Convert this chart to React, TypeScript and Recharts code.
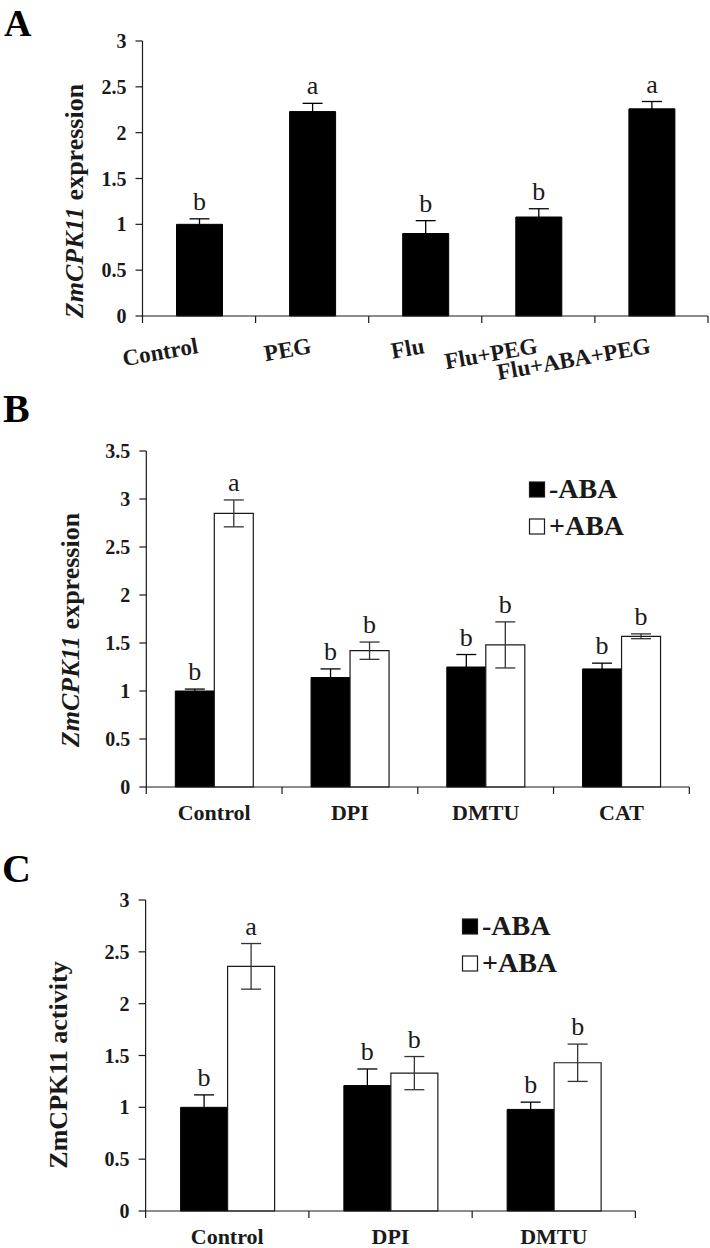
import React from 'react'
import { BarChart, Bar, XAxis, YAxis, ErrorBar, LabelList } from 'recharts'

const FONT = '"Liberation Serif", "Times New Roman", serif'
const INK = '#1a1a1a'

// Panel A: ZmCPK11 expression after PEG / fluridone treatments
const treatmentsA = ['Control', 'PEG', 'Flu', 'Flu+PEG', 'Flu+ABA+PEG']
const expressionA = [1.0, 2.23, 0.9, 1.08, 2.26]
const errorA = [0.06, 0.09, 0.14, 0.09, 0.08]
const lettersA = ['b', 'a', 'b', 'b', 'a']
const yTicksA = [0, 0.5, 1, 1.5, 2, 2.5, 3]

// Panel B: expression with / without ABA under ROS scavengers
const treatmentsB = ['Control', 'DPI', 'DMTU', 'CAT']
const minusAbaB = [1.0, 1.14, 1.25, 1.23]
const minusErrB = [0.02, 0.09, 0.13, 0.06]
const plusAbaB = [2.85, 1.42, 1.48, 1.57]
const plusErrB = [0.14, 0.09, 0.24, 0.025]
const minusLettersB = ['b', 'b', 'b', 'b']
const plusLettersB = ['a', 'b', 'b', 'b']
const yTicksB = [0, 0.5, 1, 1.5, 2, 2.5, 3, 3.5]

// Panel C: kinase activity
const treatmentsC = ['Control', 'DPI', 'DMTU']
const minusAbaC = [1.0, 1.21, 0.98]
const minusErrC = [0.12, 0.16, 0.07]
const plusAbaC = [2.36, 1.33, 1.43]
const plusErrC = [0.22, 0.16, 0.18]
const minusLettersC = ['b', 'b', 'b']
const plusLettersC = ['a', 'b', 'b']
const yTicksC = [0, 0.5, 1, 1.5, 2, 2.5, 3]

const legendNames = ['-ABA', '+ABA']

const dataA = treatmentsA.map((name, i) => ({ name, v: expressionA[i], e: errorA[i] }))
const dataB = treatmentsB.map((name, i) => ({
  name,
  minus: minusAbaB[i],
  minusErr: minusErrB[i],
  plus: plusAbaB[i],
  plusErr: plusErrB[i],
}))
const dataC = treatmentsC.map((name, i) => ({
  name,
  minus: minusAbaC[i],
  minusErr: minusErrC[i],
  plus: plusAbaC[i],
  plusErr: plusErrC[i],
}))

const yTickStyle = { fontFamily: FONT, fontWeight: 700, fontSize: 20, fill: INK }

// letter above the error bar; bar height / value gives px per unit
const letterLabel = (letters: string[], errs: number[]) => (props: any) => {
  const { x, y, width, height, index, value } = props
  const perUnit = value ? Number(height) / Number(value) : 0
  const top = Number(y) - errs[index] * perUnit
  return (
    <text
      x={Number(x) + Number(width) / 2}
      y={top - 9}
      textAnchor="middle"
      fontFamily={FONT}
      fontSize={26}
      fill={INK}
    >
      {letters[index]}
    </text>
  )
}

// category tick: tick marks on band boundaries, label below
function CategoryTick(props: any) {
  const { x, y, payload, index, half, count, angle, dy, size } = props
  const marks = [x - half]
  if (index === count - 1) marks.push(x + half)
  const ty = y + dy
  return (
    <g>
      {marks.map((mx: number, k: number) => (
        <line key={k} x1={mx} x2={mx} y1={y} y2={y + 7} stroke={INK} strokeWidth={1.2} />
      ))}
      <text
        x={x}
        y={ty}
        textAnchor={angle ? 'end' : 'middle'}
        transform={angle ? `rotate(${angle} ${x} ${ty})` : undefined}
        fontFamily={FONT}
        fontWeight={700}
        fontSize={size}
        fill={INK}
      >
        {payload.value}
      </text>
    </g>
  )
}

function YTitle({ x, y, children }: { x: number; y: number; children: React.ReactNode }) {
  return (
    <text
      x={x}
      y={y}
      transform={`rotate(-90 ${x} ${y})`}
      textAnchor="middle"
      fontFamily={FONT}
      fontWeight={700}
      fontSize={26}
      fill={INK}
    >
      {children}
    </text>
  )
}

function PanelA() {
  return (
    <BarChart width={710} height={400} data={dataA} margin={{ top: 41, right: 2, bottom: 24, left: 82.5 }}>
      <XAxis
        dataKey="name"
        height={60}
        interval={0}
        tickLine={false}
        tickSize={0}
        tickMargin={0}
        axisLine={{ stroke: INK, strokeWidth: 1.2 }}
        tick={(p: any) => (
          <CategoryTick {...p} half={56.55} count={treatmentsA.length} angle={-10} dy={37} size={23} />
        )}
      />
      <YAxis
        type="number"
        domain={[0, 3]}
        ticks={yTicksA}
        interval={0}
        width={60}
        tickSize={7}
        tickMargin={9}
        axisLine={{ stroke: INK, strokeWidth: 1.2 }}
        tickLine={{ stroke: INK, strokeWidth: 1.2 }}
        tick={yTickStyle}
        label={{
          content: () => (
            <YTitle x={83} y={201}>
              <tspan fontStyle="italic">ZmCPK11</tspan> expression
            </YTitle>
          ),
        }}
      />
      <Bar dataKey="v" barSize={46} fill="#000" stroke="#000" isAnimationActive={false}>
        <ErrorBar dataKey="e" width={10} stroke="#000" strokeWidth={1.3} direction="y" isAnimationActive={false} />
        <LabelList dataKey="v" content={letterLabel(lettersA, errorA)} />
      </Bar>
    </BarChart>
  )
}

function PairedPanel({
  data,
  ticks,
  top,
  height,
  margin,
  xHeight,
  half,
  count,
  barSize,
  errs,
  letters,
  title,
}: any) {
  return (
    <BarChart width={710} height={height} data={data} margin={margin} barGap={0}>
      <XAxis
        dataKey="name"
        height={xHeight}
        interval={0}
        tickLine={false}
        tickSize={0}
        tickMargin={0}
        axisLine={{ stroke: INK, strokeWidth: 1.2 }}
        tick={(p: any) => <CategoryTick {...p} half={half} count={count} angle={0} dy={33} size={22} />}
      />
      <YAxis
        type="number"
        domain={[0, ticks[ticks.length - 1]]}
        ticks={ticks}
        interval={0}
        width={60}
        tickSize={7}
        tickMargin={9}
        axisLine={{ stroke: INK, strokeWidth: 1.2 }}
        tickLine={{ stroke: INK, strokeWidth: 1.2 }}
        tick={yTickStyle}
        label={{ content: () => <YTitle x={title.x} y={title.y - top}>{title.text}</YTitle> }}
      />
      <Bar dataKey="minus" name={legendNames[0]} barSize={barSize} fill="#000" stroke="#000" isAnimationActive={false}>
        <ErrorBar dataKey="minusErr" width={10} stroke="#000" strokeWidth={1.3} direction="y" isAnimationActive={false} />
        <LabelList dataKey="minus" content={letterLabel(letters[0], errs[0])} />
      </Bar>
      <Bar
        dataKey="plus"
        name={legendNames[1]}
        barSize={barSize}
        fill="#fff"
        stroke={INK}
        strokeWidth={1.2}
        isAnimationActive={false}
      >
        <ErrorBar dataKey="plusErr" width={10} stroke="#333" strokeWidth={1.3} direction="y" isAnimationActive={false} />
        <LabelList dataKey="plus" content={letterLabel(letters[1], errs[1])} />
      </Bar>
    </BarChart>
  )
}

function LegendBox({ x, y }: { x: number; y: number }) {
  return (
    <g>
      {legendNames.map((n, i) => (
        <g key={n} transform={`translate(${x} ${y + i * 37})`}>
          <rect x={0.5} y={-16} width={15} height={15} fill={i === 0 ? '#000' : '#fff'} stroke={INK} strokeWidth={1.2} />
          <text x={20} y={0} fontFamily={FONT} fontWeight={700} fontSize={28} fill={INK}>
            {n}
          </text>
        </g>
      ))}
    </g>
  )
}

export default function App() {
  return (
    <div style={{ position: 'absolute', left: 0, top: 0, width: 710, height: 1248, background: '#fff' }}>
      <div style={{ position: 'absolute', left: 0, top: 0 }}>
        <PanelA />
      </div>
      <div style={{ position: 'absolute', left: 0, top: 400 }}>
        <PairedPanel
          data={dataB}
          ticks={yTicksB}
          top={400}
          height={440}
          margin={{ top: 51, right: 20.7, bottom: 13, left: 86.3 }}
          xHeight={40}
          half={67.9}
          count={treatmentsB.length}
          barSize={39}
          errs={[minusErrB, plusErrB]}
          letters={[minusLettersB, plusLettersB]}
          title={{
            x: 79,
            y: 630,
            text: (
              <>
                <tspan fontStyle="italic">ZmCPK11</tspan> expression
              </>
            ),
          }}
        />
      </div>
      <div style={{ position: 'absolute', left: 0, top: 850 }}>
        <PairedPanel
          data={dataC}
          ticks={yTicksC}
          top={850}
          height={398}
          margin={{ top: 50, right: 74.6, bottom: 0, left: 85.6 }}
          xHeight={37}
          half={81.6}
          count={treatmentsC.length}
          barSize={47}
          errs={[minusErrC, plusErrC]}
          letters={[minusLettersC, plusLettersC]}
          title={{ x: 67, y: 1065, text: 'ZmCPK11 activity' }}
        />
      </div>
      <svg
        width={710}
        height={1248}
        style={{ position: 'absolute', left: 0, top: 0, pointerEvents: 'none' }}
      >
        <text x={4} y={36} fontFamily={FONT} fontWeight={700} fontSize={38} fill="#000">A</text>
        <text x={3} y={422} fontFamily={FONT} fontWeight={700} fontSize={40} fill="#000">B</text>
        <text x={2} y={882} fontFamily={FONT} fontWeight={700} fontSize={40} fill="#000">C</text>
        <LegendBox x={529} y={498} />
        <LegendBox x={462} y={935} />
      </svg>
    </div>
  )
}
